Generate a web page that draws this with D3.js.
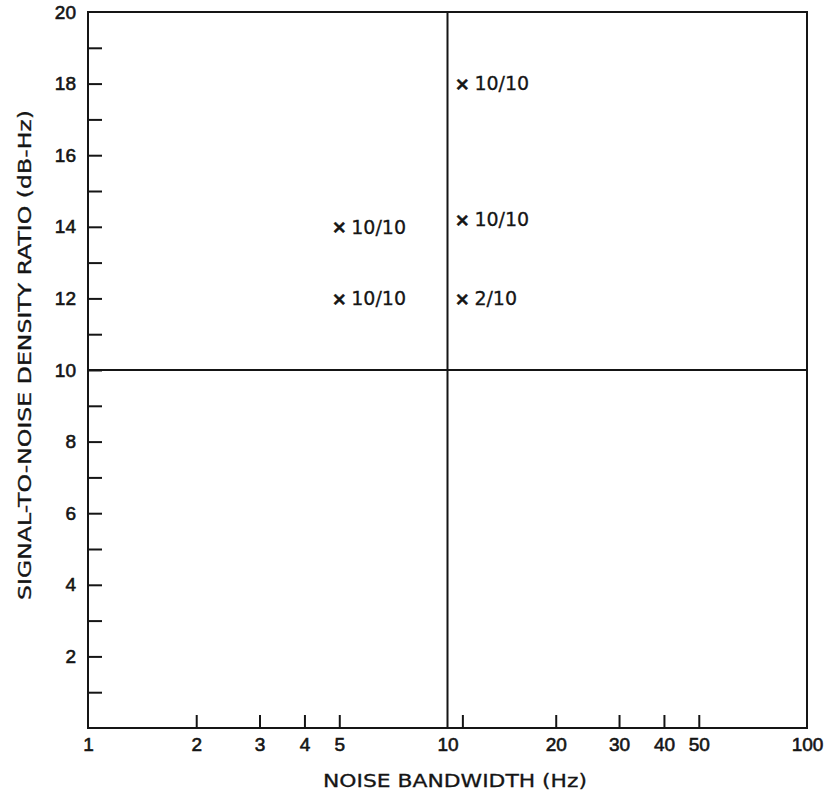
<!DOCTYPE html>
<html>
<head>
<meta charset="utf-8">
<script src="https://cdn.jsdelivr.net/npm/d3@7"></script>
<style>
  body { margin: 0; background: #fff; }
  svg { display: block; font-family: "DejaVu Sans", "Liberation Sans", sans-serif; }
</style>
</head>
<body>
<svg id="chart" width="825" height="796"></svg>
<script>
// data
const bandwidth = [5, 5, 11, 11, 11];
const snr = [14, 12, 18, 14.2, 12];
const results = ["10/10", "10/10", "10/10", "10/10", "2/10"];

const xTicks = [2, 3, 4, 5, 11, 20, 30, 40, 50];
const xLabels = [1, 2, 3, 4, 5, 10, 20, 30, 40, 50, 100];
const yTicks = d3.range(1, 20);
const yLabels = [2, 4, 6, 8, 10, 12, 14, 16, 18, 20];

const svg = d3.select("#chart");
const plotL = 88, plotR = 807, plotT = 12, plotB = 728;

const x = d3.scaleLog().domain([1, 100]).range([plotL, plotR]);
const y = d3.scaleLinear().domain([0, 20]).range([plotB, plotT]);

const ink = "#151515";
const tickFont = "'Liberation Sans', Arial, sans-serif";

// frame
svg.append("rect")
  .attr("x", plotL).attr("y", plotT)
  .attr("width", plotR - plotL).attr("height", plotB - plotT)
  .attr("fill", "none").attr("stroke", ink).attr("stroke-width", 2);

// cross lines at 10 Hz and 10 dB-Hz
svg.append("line")
  .attr("x1", x(10)).attr("x2", x(10))
  .attr("y1", plotT).attr("y2", plotB)
  .attr("stroke", ink).attr("stroke-width", 2);
svg.append("line")
  .attr("x1", plotL).attr("x2", plotR)
  .attr("y1", y(10)).attr("y2", y(10))
  .attr("stroke", ink).attr("stroke-width", 2);

// left ticks (inside)
svg.append("g")
  .attr("transform", `translate(${plotL},0)`)
  .call(d3.axisRight(y).tickValues(yTicks).tickSize(14).tickFormat(""))
  .call(g => g.select(".domain").remove())
  .call(g => g.selectAll("line").attr("stroke", ink).attr("stroke-width", 2));

// y labels
svg.append("g")
  .attr("transform", `translate(${plotL},0)`)
  .call(d3.axisLeft(y).tickValues(yLabels).tickSize(0).tickPadding(12))
  .call(g => g.select(".domain").remove())
  .call(g => g.selectAll("text")
    .attr("fill", ink)
    .attr("stroke", ink).attr("stroke-width", 0.6)
    .style("font-size", "19px")
    .style("font-family", tickFont));

// bottom ticks (inside)
svg.append("g")
  .attr("transform", `translate(0,${plotB})`)
  .call(d3.axisTop(x).tickValues(xTicks).tickSize(13).tickFormat(""))
  .call(g => g.select(".domain").remove())
  .call(g => g.selectAll("line").attr("stroke", ink).attr("stroke-width", 2));

// x labels
svg.append("g")
  .attr("transform", `translate(0,${plotB})`)
  .call(d3.axisBottom(x).tickValues(xLabels).tickSize(0).tickPadding(10).tickFormat(d3.format("d")))
  .call(g => g.select(".domain").remove())
  .call(g => g.selectAll("text")
    .attr("fill", ink)
    .attr("stroke", ink).attr("stroke-width", 0.6)
    .style("font-size", "19px")
    .style("font-family", tickFont));

// points
const pts = svg.append("g");
bandwidth.forEach((b, i) => {
  const px = x(b), py = y(snr[i]);
  pts.append("text")
    .attr("x", px).attr("y", py)
    .attr("text-anchor", "middle")
    .attr("dy", "0.36em")
    .attr("fill", ink)
    .attr("stroke", ink).attr("stroke-width", 0.6)
    .style("font-size", "18px")
    .style("font-weight", "bold")
    .text("\u00d7");
  pts.append("text")
    .attr("x", px + 12).attr("y", py)
    .attr("dy", "0.36em")
    .attr("fill", ink)
    .attr("stroke", ink).attr("stroke-width", 0.3)
    .style("font-size", "19px")
    .text(results[i]);
});

// axis titles
svg.append("text")
  .attr("x", 455).attr("y", 787)
  .attr("text-anchor", "middle")
  .attr("textLength", 264)
  .attr("lengthAdjust", "spacingAndGlyphs")
  .attr("fill", ink)
  .attr("stroke", ink).attr("stroke-width", 0.3)
  .style("font-size", "18px")
  .text("NOISE BANDWIDTH (Hz)");

svg.append("text")
  .attr("transform", `translate(31,355) rotate(-90)`)
  .attr("text-anchor", "middle")
  .attr("textLength", 490)
  .attr("lengthAdjust", "spacingAndGlyphs")
  .attr("fill", ink)
  .attr("stroke", ink).attr("stroke-width", 0.3)
  .style("font-size", "18px")
  .text("SIGNAL-TO-NOISE DENSITY RATIO (dB-Hz)");
</script>
</body>
</html>
